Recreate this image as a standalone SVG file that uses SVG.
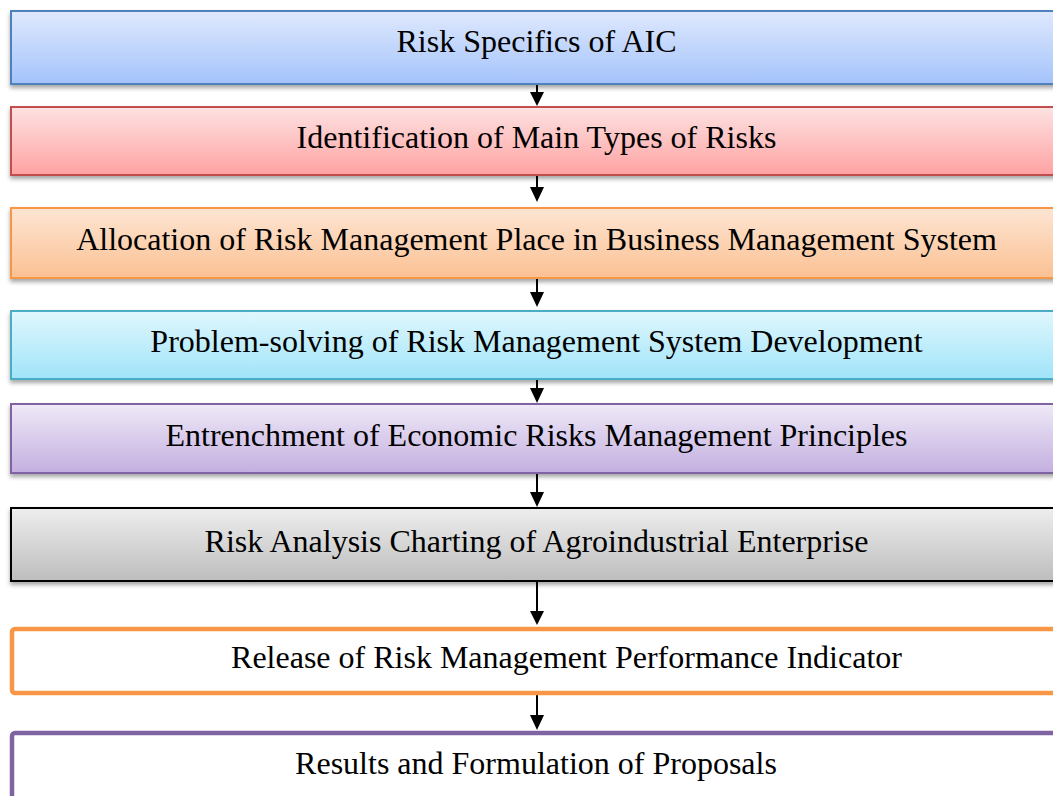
<svg xmlns="http://www.w3.org/2000/svg" width="1053" height="796" viewBox="0 0 1053 796">
<defs>
<linearGradient id="gBlue" x1="0" y1="0" x2="0" y2="1"><stop offset="0" stop-color="#dfe9fd"/><stop offset="1" stop-color="#a4c3fb"/></linearGradient>
<linearGradient id="gRed" x1="0" y1="0" x2="0" y2="1"><stop offset="0" stop-color="#fde2e2"/><stop offset="1" stop-color="#ffa2a2"/></linearGradient>
<linearGradient id="gOrange" x1="0" y1="0" x2="0" y2="1"><stop offset="0" stop-color="#fde5d3"/><stop offset="1" stop-color="#fbc193"/></linearGradient>
<linearGradient id="gCyan" x1="0" y1="0" x2="0" y2="1"><stop offset="0" stop-color="#e0f7fd"/><stop offset="1" stop-color="#a0e4f9"/></linearGradient>
<linearGradient id="gPurple" x1="0" y1="0" x2="0" y2="1"><stop offset="0" stop-color="#efe9f7"/><stop offset="1" stop-color="#c3afe0"/></linearGradient>
<linearGradient id="gGray" x1="0" y1="0" x2="0" y2="1"><stop offset="0" stop-color="#eeeeee"/><stop offset="1" stop-color="#bdbdbd"/></linearGradient>
<filter id="shadow" x="-5%" y="-20%" width="110%" height="150%"><feDropShadow dx="0" dy="3" stdDeviation="2" flood-color="#000" flood-opacity="0.35"/></filter>
</defs>
<style>
text{font-family:"Liberation Serif","Times New Roman",serif;font-size:32px;fill:#000;text-anchor:middle}
.box{stroke-width:2;filter:url(#shadow)}
.conn line{stroke:#000;stroke-width:2}
</style>
<g id="connectors" class="conn">
<line x1="537" y1="84" x2="537" y2="92"/><path d="M530,92 L544,92 L537,106 Z"/>
<line x1="537" y1="175" x2="537" y2="187"/><path d="M530,187 L544,187 L537,202 Z"/>
<line x1="537" y1="278" x2="537" y2="292"/><path d="M530,292 L544,292 L537,307 Z"/>
<line x1="537" y1="379" x2="537" y2="388"/><path d="M530,388 L544,388 L537,403 Z"/>
<line x1="537" y1="473" x2="537" y2="492"/><path d="M530,492 L544,492 L537,507 Z"/>
<line x1="537" y1="581" x2="537" y2="611"/><path d="M530,611 L544,611 L537,625 Z"/>
<line x1="537" y1="695" x2="537" y2="715"/><path d="M530,715 L544,715 L537,730 Z"/>
</g>
<g id="n1"><rect class="box" x="11" y="11" width="1060" height="73" fill="url(#gBlue)" stroke="#4f81bd"/><text x="536.5" y="52">Risk Specifics of AIC</text></g>
<g id="n2"><rect class="box" x="11" y="107" width="1060" height="68" fill="url(#gRed)" stroke="#c0504d"/><text x="536.5" y="148">Identification of Main Types of Risks</text></g>
<g id="n3"><rect class="box" x="11" y="208" width="1060" height="70" fill="url(#gOrange)" stroke="#f79646"/><text x="536.5" y="250">Allocation of Risk Management Place in Business Management System</text></g>
<g id="n4"><rect class="box" x="11" y="311" width="1060" height="68" fill="url(#gCyan)" stroke="#4bacc6"/><text x="536.5" y="352">Problem-solving of Risk Management System Development</text></g>
<g id="n5"><rect class="box" x="11" y="404" width="1060" height="69" fill="url(#gPurple)" stroke="#8064a2"/><text x="536.5" y="446">Entrenchment of Economic Risks Management Principles</text></g>
<g id="n6"><rect class="box" x="11" y="508" width="1060" height="73" fill="url(#gGray)" stroke="#000"/><text x="536.5" y="552">Risk Analysis Charting of Agroindustrial Enterprise</text></g>
<g id="n7"><rect x="12" y="629" width="1060" height="64" rx="3" fill="#fff" stroke="#f79646" stroke-width="4.5"/><text x="566.5" y="668">Release of Risk Management Performance Indicator</text></g>
<g id="n8"><rect x="12" y="733" width="1060" height="80" rx="3" fill="#fff" stroke="#8064a2" stroke-width="4.5"/><text x="536" y="774">Results and Formulation of Proposals</text></g>
</svg>
